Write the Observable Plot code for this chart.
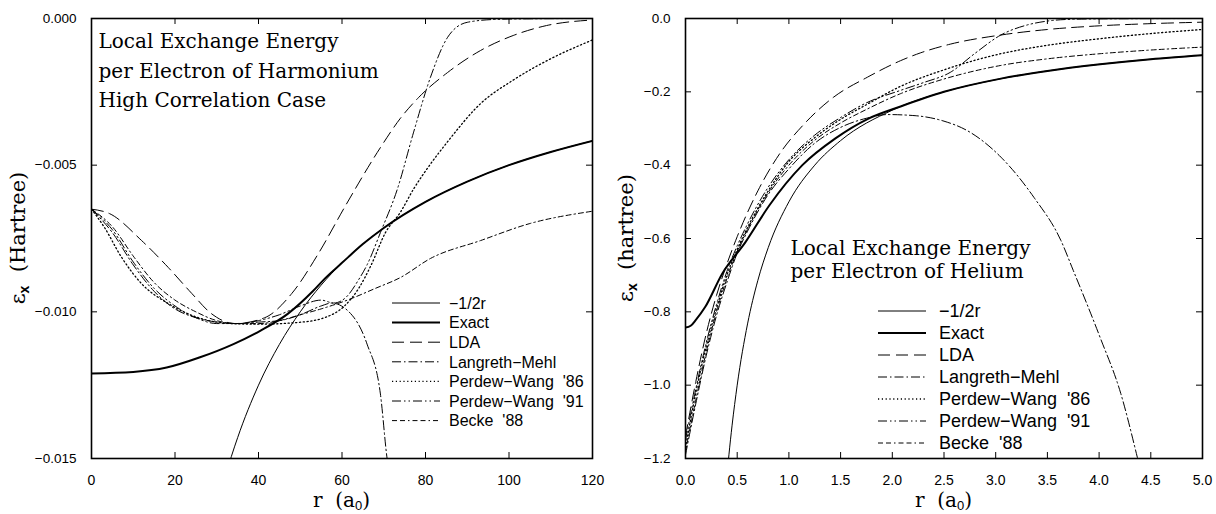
<!DOCTYPE html>
<html><head><meta charset="utf-8">
<script src="https://cdn.jsdelivr.net/npm/d3@7"></script>
<script src="https://cdn.jsdelivr.net/npm/@observablehq/plot@0.6"></script>
<style>
body{margin:0;background:#fff;}
#wrap{position:relative;width:1216px;height:514px;overflow:hidden;background:#fff;}
#left{position:absolute;left:0;top:0;}
#right{position:absolute;left:608px;top:0;}
</style></head><body><div id="wrap"><div id="left"></div><div id="right"></div></div>
<script>
// ---------- legend / series names ----------
const seriesKeys  = ["inv", "exact", "lda", "lm", "pw86", "pw91", "b88"];
const seriesNames = ["\u22121/2r", "Exact", "LDA", "Langreth\u2212Mehl", "Perdew\u2212Wang  '86", "Perdew\u2212Wang  '91", "Becke  '88"];

// ---------- Harmonium (left panel) ----------
const harmXTicks = [0, 20, 40, 60, 80, 100, 120];
const harmYTicks = [0, -0.005, -0.010, -0.015];

const harmR_inv = [32, 33.5, 35, 40, 45, 50, 55, 60, 70, 80, 90, 100, 110, 120];
const harmE_inv = [-0.01563, -0.01493, -0.01429, -0.0125, -0.01111, -0.0100, -0.00909, -0.00833, -0.00714, -0.00625, -0.00556, -0.0050, -0.00455, -0.00417];

const harmR_exact = [0, 10, 18, 26, 34, 40.5, 47, 53, 56, 60, 65, 70, 80, 90, 100, 110, 120];
const harmE_exact = [-0.0121, -0.01205, -0.0119, -0.01155, -0.0111, -0.01064, -0.01007, -0.0093, -0.00885, -0.00833, -0.00769, -0.00714, -0.00625, -0.00556, -0.0050, -0.00455, -0.00417];

const harmR_lda = [0, 4.3, 12, 18.4, 24, 28.7, 34.3, 41.5, 48, 54.4, 60.6, 69.2, 74, 78.3, 85.3, 93.2, 101, 109, 120];
const harmE_lda = [-0.0065, -0.00665, -0.00757, -0.00849, -0.00937, -0.01006, -0.0104, -0.0102, -0.00937, -0.0080, -0.00644, -0.0044, -0.0034, -0.0027, -0.00184, -0.00109, -0.00058, -0.00024, -0.00005];

const harmR_lm = [0, 5, 10, 15, 20, 25, 30, 35, 40, 45, 50, 55, 57.5, 61.3, 66, 69.2, 70.8, 72];
const harmE_lm = [-0.0065, -0.0073, -0.0084, -0.0093, -0.0099, -0.0102, -0.01035, -0.0104, -0.01035, -0.0103, -0.0101, -0.0098, -0.0097, -0.00995, -0.0111, -0.0128, -0.0150, -0.0160];

const harmR_pw86 = [0, 3, 7.2, 12, 18.4, 25.6, 33.5, 40, 49.6, 55.8, 60.6, 64, 67, 70.4, 74, 77.2, 81, 85.3, 93.2, 101, 109.2, 120];
const harmE_pw86 = [-0.0065, -0.0071, -0.00814, -0.00904, -0.00972, -0.0102, -0.0104, -0.01042, -0.01036, -0.0102, -0.0098, -0.0092, -0.0084, -0.0073, -0.0066, -0.0058, -0.0050, -0.0042, -0.0029, -0.0021, -0.00143, -0.00073];

const harmR_pw91 = [0, 5, 10, 15, 20, 25, 30, 35, 40, 45, 50, 55, 58, 61, 64, 66, 69.2, 73.3, 77.1, 81.2, 85.3, 90, 97, 105, 120];
const harmE_pw91 = [-0.0065, -0.0072, -0.0083, -0.0092, -0.0098, -0.0102, -0.0104, -0.0104, -0.0103, -0.0101, -0.0098, -0.0096, -0.0097, -0.0095, -0.0089, -0.0084, -0.0073, -0.0058, -0.0039, -0.0020, -0.00064, -0.00013, -0.00003, -0.00001, 0];

const harmR_b88 = [0, 5, 10, 15, 20, 25, 30, 35, 40, 45, 50, 55, 61.3, 68, 74, 81.2, 93.2, 105, 120];
const harmE_b88 = [-0.0065, -0.0071, -0.0081, -0.0090, -0.0096, -0.0100, -0.0103, -0.0104, -0.0104, -0.0103, -0.0101, -0.0099, -0.0096, -0.0092, -0.00883, -0.00818, -0.00757, -0.00699, -0.00657];

// ---------- Helium (right panel) ----------
const helXTicks = [0, 0.5, 1, 1.5, 2, 2.5, 3, 3.5, 4, 4.5, 5];
const helYTicks = [0, -0.2, -0.4, -0.6, -0.8, -1.0, -1.2];

const helR_inv = [0.4, 0.42, 0.45, 0.5, 0.6, 0.7, 0.8, 1, 1.25, 1.5, 2, 2.5, 3, 3.5, 4, 4.5, 5];
const helE_inv = [-1.25, -1.19, -1.111, -1.0, -0.833, -0.714, -0.625, -0.5, -0.4, -0.333, -0.25, -0.2, -0.167, -0.143, -0.125, -0.111, -0.1];

const helR_exact = [0, 0.05, 0.1, 0.19, 0.355, 0.58, 0.81, 1.13, 1.45, 1.77, 2.08, 2.5, 3.05, 3.5, 4.01, 4.5, 5];
const helE_exact = [-0.843, -0.838, -0.822, -0.787, -0.696, -0.61, -0.51, -0.40, -0.327, -0.273, -0.24, -0.2, -0.164, -0.143, -0.125, -0.111, -0.1];

const helR_lda = [0, 0.1, 0.2, 0.3, 0.4, 0.5, 0.7, 0.92, 1.14, 1.43, 1.76, 2.08, 2.27, 2.56, 3.05, 3.5, 4, 4.5, 5];
const helE_lda = [-1.14, -0.99, -0.86, -0.755, -0.67, -0.595, -0.47, -0.365, -0.29, -0.215, -0.16, -0.115, -0.094, -0.07, -0.045, -0.03, -0.02, -0.014, -0.01];

const helR_lm = [0, 0.1, 0.2, 0.3, 0.4, 0.5, 0.6, 0.8, 1.0, 1.25, 1.5, 1.75, 1.95, 2.22, 2.5, 2.72, 3.05, 3.37, 3.63, 3.75, 4.01, 4.21, 4.37, 4.45];
const helE_lm = [-1.19, -1.05, -0.92, -0.81, -0.72, -0.64, -0.58, -0.48, -0.41, -0.34, -0.297, -0.272, -0.262, -0.265, -0.28, -0.305, -0.378, -0.488, -0.605, -0.687, -0.87, -1.023, -1.197, -1.29];

const helR_pw86 = [0, 0.1, 0.2, 0.3, 0.4, 0.5, 0.6, 0.8, 1.0, 1.25, 1.5, 1.75, 2.08, 2.5, 3.05, 3.5, 4.01, 4.5, 5];
const helE_pw86 = [-1.17, -1.02, -0.895, -0.79, -0.70, -0.63, -0.57, -0.47, -0.39, -0.325, -0.275, -0.235, -0.185, -0.14, -0.096, -0.073, -0.055, -0.041, -0.03];

const helR_pw91 = [0, 0.1, 0.2, 0.3, 0.4, 0.5, 0.6, 0.8, 1.0, 1.25, 1.5, 1.75, 2.08, 2.3, 2.56, 2.8, 3.05, 3.3, 3.5, 3.75, 4, 5];
const helE_pw91 = [-1.15, -1.01, -0.885, -0.78, -0.69, -0.62, -0.56, -0.46, -0.385, -0.318, -0.27, -0.23, -0.196, -0.175, -0.147, -0.095, -0.045, -0.018, -0.007, -0.002, -0.001, 0];

const helR_b88 = [0, 0.1, 0.2, 0.3, 0.4, 0.5, 0.6, 0.8, 1.0, 1.25, 1.5, 1.75, 2.08, 2.5, 3.05, 3.5, 4.01, 4.5, 5];
const helE_b88 = [-1.18, -1.04, -0.91, -0.80, -0.71, -0.635, -0.575, -0.475, -0.40, -0.332, -0.285, -0.248, -0.205, -0.165, -0.128, -0.11, -0.096, -0.086, -0.078];

// ---------- styles ----------
const lineStyle = {
  inv:   {w: 1,   dash: null},
  exact: {w: 2,   dash: null},
  lda:   {w: 1,   dash: "12,6"},
  lm:    {w: 1,   dash: "9,3,1.5,3"},
  pw86:  {w: 1.3, dash: "1.2,2.6"},
  pw91:  {w: 1,   dash: "9,3,1.5,3,1.5,3"},
  b88:   {w: 1,   dash: "5,3,5,3,1.5,3"}
};
const SANS = "'Liberation Sans', Arial, Helvetica, sans-serif";
const SERIF = "'DejaVu Serif', serif";

function rows(rs, es) { return rs.map((r, i) => ({r, e: es[i]})); }

const harmSeries = {
  inv: rows(harmR_inv, harmE_inv), exact: rows(harmR_exact, harmE_exact), lda: rows(harmR_lda, harmE_lda),
  lm: rows(harmR_lm, harmE_lm), pw86: rows(harmR_pw86, harmE_pw86), pw91: rows(harmR_pw91, harmE_pw91), b88: rows(harmR_b88, harmE_b88)
};
const helSeries = {
  inv: rows(helR_inv, helE_inv), exact: rows(helR_exact, helE_exact), lda: rows(helR_lda, helE_lda),
  lm: rows(helR_lm, helE_lm), pw86: rows(helR_pw86, helE_pw86), pw91: rows(helR_pw91, helE_pw91), b88: rows(helR_b88, helE_b88)
};

function panel(cfg) {
  const W = 608, H = 514, mt = 18, mb = 56;
  const pw = W - cfg.ml - cfg.mr, ph = H - mt - mb;
  const marks = [];
  for (const k of seriesKeys) {
    const st = lineStyle[k];
    marks.push(Plot.line(cfg.series[k], {x: "r", y: "e", stroke: "#000", strokeWidth: st.w,
      strokeDasharray: st.dash, curve: "monotone-x", clip: true}));
  }
  // inward ticks on all four sides
  marks.push(Plot.ruleX(cfg.xTicks, {x: d => d, insetTop: ph - 6, stroke: "#000"}));
  marks.push(Plot.ruleX(cfg.xTicks, {x: d => d, insetBottom: ph - 6, stroke: "#000"}));
  marks.push(Plot.ruleY(cfg.yTicks, {y: d => d, insetRight: pw - 6, stroke: "#000"}));
  marks.push(Plot.ruleY(cfg.yTicks, {y: d => d, insetLeft: pw - 6, stroke: "#000"}));
  // tick labels
  marks.push(Plot.text(cfg.xTicks, {x: d => d, text: d => cfg.xFmt(d), frameAnchor: "bottom", lineAnchor: "middle",
    dy: 22, fontSize: 14, fontFamily: SANS, fill: "#000"}));
  marks.push(Plot.text(cfg.yTicks, {y: d => d, text: d => cfg.yFmt(d), frameAnchor: "left", textAnchor: "end",
    lineAnchor: "middle", dx: -15, fontSize: 13.5, fontFamily: SANS, fill: "#000"}));
  // annotation
  marks.push(Plot.text([cfg.note], {text: d => d, frameAnchor: "top-left", textAnchor: "start", lineAnchor: "top",
    dx: cfg.noteDx, dy: cfg.noteDy, lineHeight: cfg.noteLH, fontSize: 20, fontFamily: SERIF, fill: "#000"}));
  marks.push(Plot.frame({stroke: "#000", strokeWidth: 1.6}));

  const chart = Plot.plot({
    width: W, height: H, marginLeft: cfg.ml, marginRight: cfg.mr, marginTop: mt, marginBottom: mb,
    x: {domain: cfg.xDomain, axis: null},
    y: {domain: cfg.yDomain, axis: null},
    style: {background: "white", overflow: "visible"},
    marks
  });
  const svg = d3.select(chart);
  // legend
  const lg = svg.append("g").attr("text-anchor", "start");
  seriesKeys.forEach((k, i) => {
    const st = lineStyle[k];
    const y = cfg.lgY + i * cfg.lgStep;
    lg.append("line").attr("x1", cfg.lgX1).attr("x2", cfg.lgX2).attr("y1", y).attr("y2", y)
      .attr("stroke", "#000").attr("stroke-width", st.w).attr("stroke-dasharray", st.dash);
    lg.append("text").attr("x", cfg.lgTX).attr("y", y).attr("dy", "0.36em").attr("text-anchor", "start")
      .attr("font-family", SANS).attr("font-size", cfg.lgFont).attr("fill", "#000")
      .style("white-space", "pre").text(seriesNames[i]);
  });
  // x axis title r (a0)
  const xt = svg.append("text").attr("x", cfg.ml + pw / 2).attr("y", 507).attr("text-anchor", "middle")
    .attr("font-family", SERIF).attr("font-size", 20).attr("fill", "#000");
  xt.append("tspan").text("r  (a");
  xt.append("tspan").attr("font-family", SANS).attr("font-size", 13).attr("dy", 3).text("0");
  xt.append("tspan").attr("dy", -3).text(")");
  // y axis title
  const yt = svg.append("text").attr("transform", `translate(25,${mt + ph / 2}) rotate(-90)`)
    .attr("text-anchor", "middle").attr("font-family", SERIF).attr("font-size", 21).attr("fill", "#000");
  yt.append("tspan").text("\u03b5");
  yt.append("tspan").attr("font-family", SANS).attr("font-weight", "bold").attr("font-size", 14).attr("dy", 4).text("x");
  yt.append("tspan").attr("dy", -4).text("  (" + cfg.unit + ")");
  return chart;
}

const left = panel({
  series: harmSeries, xDomain: [0, 120], yDomain: [-0.015, 0], xTicks: harmXTicks, yTicks: harmYTicks,
  xFmt: d3.format("d"), yFmt: d3.format(".3f"), ml: 91, mr: 16,
  note: "Local Exchange Energy\nper Electron of Harmonium\nHigh Correlation Case", noteDx: 7, noteDy: 9, noteLH: 1.47,
  lgX1: 392, lgX2: 440, lgTX: 449, lgY: 303, lgStep: 19.6, lgFont: 16, unit: "Hartree"
});
const right = panel({
  series: helSeries, xDomain: [0, 5], yDomain: [-1.2, 0], xTicks: helXTicks, yTicks: helYTicks,
  xFmt: d3.format(".1f"), yFmt: d3.format(".1f"), ml: 77, mr: 14,
  note: "Local Exchange Energy\nper Electron of Helium", noteDx: 105, noteDy: 220, noteLH: 1.15,
  lgX1: 270, lgX2: 318, lgTX: 331, lgY: 311, lgStep: 22, lgFont: 18, unit: "hartree"
});
document.getElementById("left").appendChild(left);
document.getElementById("right").appendChild(right);
</script>
</body></html>
